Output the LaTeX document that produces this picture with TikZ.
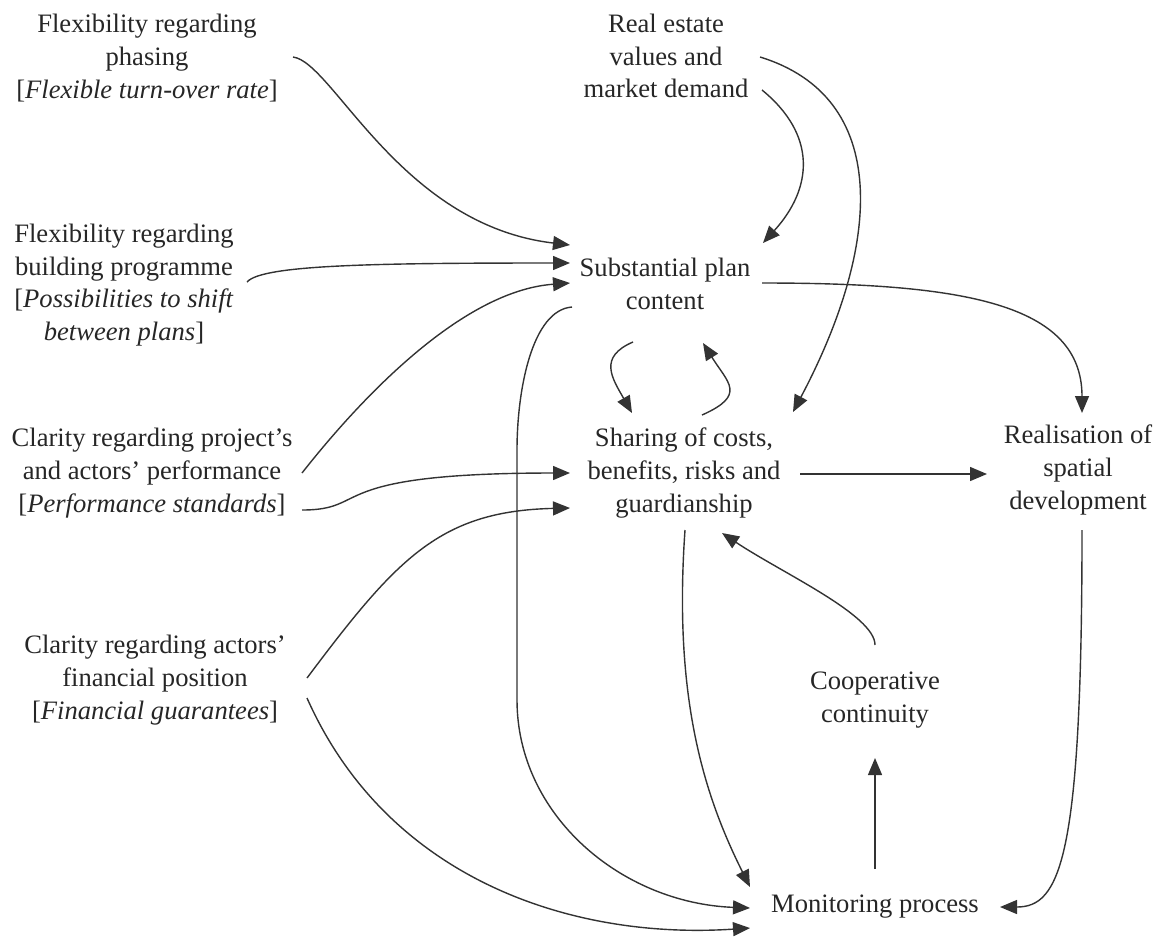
\documentclass[tikz,border=0pt]{standalone}
\usepackage{fontspec}
\setmainfont{Liberation Serif}
\usetikzlibrary{arrows.meta,calc}

\begin{document}
\begin{tikzpicture}[x=0.5pt, y=-0.5pt,
    box/.style={align=center, inner sep=0pt, text=black!85,
        font=\fontsize{13.3}{16.3}\selectfont},
    link/.style={draw=black!80, line width=0.7pt,
        -{Triangle[length=8.5pt,width=7pt]}}]
    \useasboundingbox (0,0) rectangle (1165,938);

    % conditions on the left
    \node[box] (phasing) at (147,58) {Flexibility regarding\\ phasing\\ {[}\textit{Flexible turn-over rate}{]}};
    \node[box] (programme) at (124,285) {Flexibility regarding\\ building programme\\ {[}\textit{Possibilities to shift}\\ \textit{between plans}{]}};
    \node[box] (perform) at (152,473) {Clarity regarding project's\\ and actors' performance\\ {[}\textit{Performance standards}{]}};
    \node[box] (finance) at (155,680) {Clarity regarding actors'\\ financial position\\ {[}\textit{Financial guarantees}{]}};

    % central chain
    \node[box] (market) at (666,56) {Real estate\\ values and\\ market demand};
    \node[box] (content) at (665,284) {Substantial plan\\ content};
    \node[box] (sharing) at (684,473) {Sharing of costs,\\ benefits, risks and\\ guardianship};
    \node[box] (realise) at (1078,470) {Realisation of\\ spatial\\ development};
    \node[box] (coop) at (875,700) {Cooperative\\ continuity};
    \node[box] (monitor) at (875,907) {Monitoring process};

    % into the plan content
    \draw[link] ($(phasing)+(146,-1)$) .. controls +(40,5) and +(-170,-20) .. ($(content)+(-95,-39)$);
    \draw[link] ($(programme)+(123,-3)$) .. controls +(15,-17) and +(-200,0) .. ($(content)+(-95,-21)$);
    \draw[link] ($(perform)+(150,0)$) .. controls +(55,-70) and +(-110,8) .. ($(content)+(-95,-1)$);
    \draw[link] ($(market)+(96,34)$) .. controls +(55,45) and +(50,-55) .. ($(content)+(98,-41)$);

    % into the sharing
    \draw[link] ($(perform)+(150,37)$) .. controls +(70,0) and +(-250,0) .. ($(sharing)+(-114,0)$);
    \draw[link] ($(finance)+(152,-2)$) .. controls +(90,-120) and +(-130,3) .. ($(sharing)+(-114,35)$);
    \draw[link] ($(market)+(94,1)$) .. controls +(130,40) and +(90,-170) .. ($(sharing)+(109,-61)$);
    \draw[link] ($(content)+(-32,58)$) .. controls +(-35,15) and +(-20,-35) .. ($(sharing)+(-52,-60)$);
    \draw[link] ($(sharing)+(18,-58)$) .. controls +(45,-20) and +(25,40) .. ($(content)+(38,59)$);
    \draw[link] ($(coop)+(0,-55)$) .. controls +(0,-30) and +(60,40) .. ($(sharing)+(38,60)$);

    % realisation
    \draw[link] ($(content)+(97,-1)$) .. controls +(200,0) and +(0,-110) .. ($(realise)+(4,-57)$);
    \draw[link] ($(sharing)+(116,1)$) -- ($(realise)+(-91,4)$);

    % monitoring
    \draw[link] ($(content)+(-93,23)$) .. controls +(-40,3) and +(0,-60) .. ($(content)+(-148,166)$)
        -- ($(content)+(-148,416)$) .. controls +(0,115) and +(-129,-5) .. ($(monitor)+(-125,1)$);
    \draw[link] ($(sharing)+(1,57)$) .. controls +(-12,170) and +(-45,-90) .. ($(monitor)+(-125,-20)$);
    \draw[link] ($(finance)+(152,18)$) .. controls +(80,180) and +(-180,12) .. ($(monitor)+(-125,21)$);
    \draw[link] ($(realise)+(4,60)$) .. controls +(0,330) and +(60,0) .. ($(monitor)+(125,0)$);
    \draw[link] ($(monitor)+(0,-38)$) -- ($(coop)+(0,58)$);
\end{tikzpicture}
\end{document}
